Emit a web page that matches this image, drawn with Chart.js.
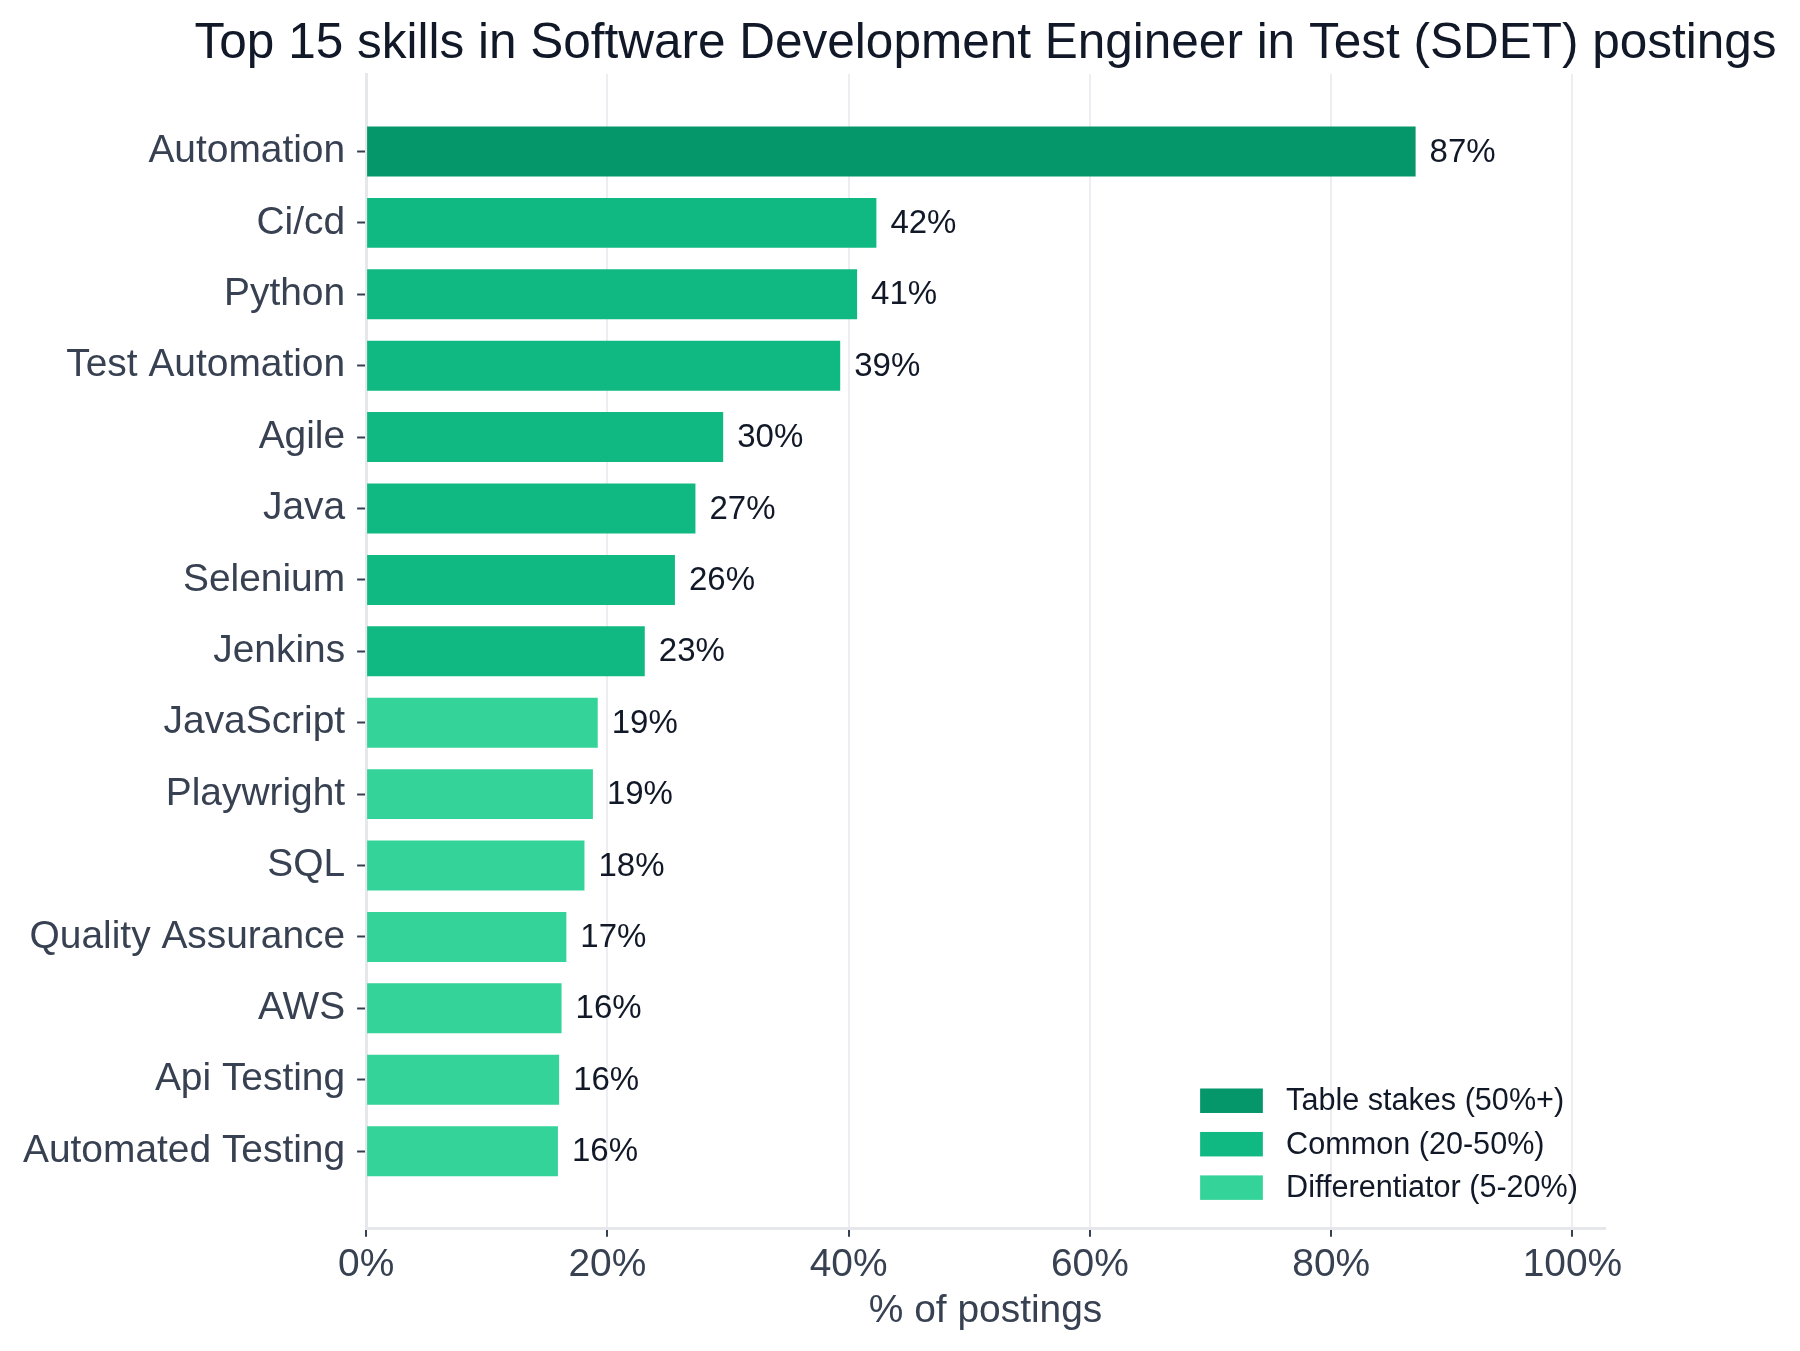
<!DOCTYPE html>
<html><head><meta charset="utf-8">
<script src="https://cdn.jsdelivr.net/npm/chart.js@4.4.1/dist/chart.umd.min.js"></script>
<style>html,body{margin:0;padding:0;background:#fff;} canvas{display:block;}</style>
</head><body>
<canvas id="c" width="1800" height="1351"></canvas>
<script>
// ---- data ----
const skills = ['Automation','Ci/cd','Python','Test Automation','Agile','Java','Selenium','Jenkins',
  'JavaScript','Playwright','SQL','Quality Assurance','AWS','Api Testing','Automated Testing'];
const shares = [87.0, 42.3, 40.7, 39.3, 29.6, 27.3, 25.6, 23.1, 19.2, 18.8, 18.1, 16.6, 16.2, 16.0, 15.9];
const skillTier = [0,1,1,1,1,1,1,1,2,2,2,2,2,2,2];
const tierLabels = ['Table stakes (50%+)','Common (20-50%)','Differentiator (5-20%)'];
const tierColors = ['#059669','#10b981','#34d399'];
const titleText = 'Top 15 skills in Software Development Engineer in Test (SDET) postings';
const xTitle = '% of postings';

const FONT = "'Liberation Sans', Arial, Helvetica, sans-serif";

const datasets = tierLabels.map((label, t) => ({
  label,
  backgroundColor: tierColors[t],
  borderWidth: 0,
  data: skills.map((s, i) => ({ y: i, x: shares[i] })).filter((p, i) => skillTier[i] === t)
}));

// Title centred over the plot area (as in the reference)
const axesTitle = {
  id: 'axesTitle',
  afterDraw(chart) {
    const { ctx, chartArea } = chart;
    ctx.save();
    ctx.font = '49.5px ' + FONT;
    ctx.fillStyle = '#111827';
    ctx.textAlign = 'center';
    ctx.textBaseline = 'alphabetic';
    ctx.fillText(titleText, (chartArea.left + chartArea.right) / 2, chartArea.top - 16);
    ctx.restore();
  }
};

const valueLabels = {
  id: 'valueLabels',
  afterDatasetsDraw(chart) {
    const ctx = chart.ctx;
    ctx.save();
    ctx.font = '33px ' + FONT;
    ctx.fillStyle = '#111827';
    ctx.textAlign = 'left';
    ctx.textBaseline = 'middle';
    chart.data.datasets.forEach((ds, di) => {
      const meta = chart.getDatasetMeta(di);
      meta.data.forEach((el, j) => {
        ctx.fillText(Math.round(ds.data[j].x) + '%', el.x + 14, el.y + 1);
      });
    });
    ctx.restore();
  }
};

const cornerLegend = {
  id: 'cornerLegend',
  afterDraw(chart) {
    const { ctx, chartArea } = chart;
    const fs = 30.6;
    ctx.save();
    ctx.font = fs + 'px ' + FONT;
    const items = chart.data.datasets.map(d => ({ text: d.label, color: d.backgroundColor }));
    const maxW = Math.max(...items.map(i => ctx.measureText(i.text).width));
    const handleW = 2.05 * fs, handleH = 0.8 * fs, gap = 0.76 * fs, rowH = 1.42 * fs;
    const textX = chartArea.right - 27 - maxW;
    const boxX = textX - gap - handleW;
    const lastY = chartArea.bottom - 41;
    ctx.textAlign = 'left';
    ctx.textBaseline = 'middle';
    items.forEach((it, k) => {
      const cy = lastY - (items.length - 1 - k) * rowH;
      ctx.fillStyle = it.color;
      ctx.fillRect(boxX, cy - handleH / 2, handleW, handleH);
      ctx.fillStyle = '#111827';
      ctx.fillText(it.text, textX, cy + 1);
    });
    ctx.restore();
  }
};

new Chart(document.getElementById('c'), {
  type: 'bar',
  data: { datasets },
  plugins: [axesTitle, valueLabels, cornerLegend],
  options: {
    responsive: false,
    devicePixelRatio: 1,
    animation: false,
    indexAxis: 'y',
    layout: { padding: { left: 11, right: 195, top: 74, bottom: 16 } },
    datasets: { bar: { grouped: false, barPercentage: 0.7, categoryPercentage: 1.0 } },
    plugins: {
      legend: { display: false },
      tooltip: { enabled: false },
      title: { display: false }
    },
    scales: {
      x: {
        type: 'linear', position: 'bottom', min: 0, max: 102.7,
        grid: { color: '#eeeef2', lineWidth: 2, drawTicks: true, tickLength: 8, tickColor: '#374151', tickWidth: 2 },
        border: { display: true, color: '#e5e7eb', width: 3 },
        ticks: {
          stepSize: 20, includeBounds: false, padding: 5,
          color: '#374151', font: { family: FONT, size: 38.9 },
          callback: v => v + '%'
        },
        title: { display: true, text: xTitle, color: '#374151', font: { family: FONT, size: 38.9 }, padding: { top: -5, bottom: 0 } }
      },
      y: {
        type: 'linear', position: 'left', reverse: true, min: -1.085, max: 15.085,
        offset: false,
        afterBuildTicks: scale => { scale.ticks = skills.map((s, i) => ({ value: i })); },
        grid: { offset: false, drawOnChartArea: false, drawTicks: true, tickLength: 9, tickColor: '#374151', tickWidth: 2 },
        border: { display: true, color: '#e5e7eb', width: 3 },
        ticks: {
          autoSkip: false, padding: 12,
          color: '#374151', font: { family: FONT, size: 38.9 },
          callback: v => skills[v] ?? ''
        }
      }
    }
  }
});
</script>
</body></html>
